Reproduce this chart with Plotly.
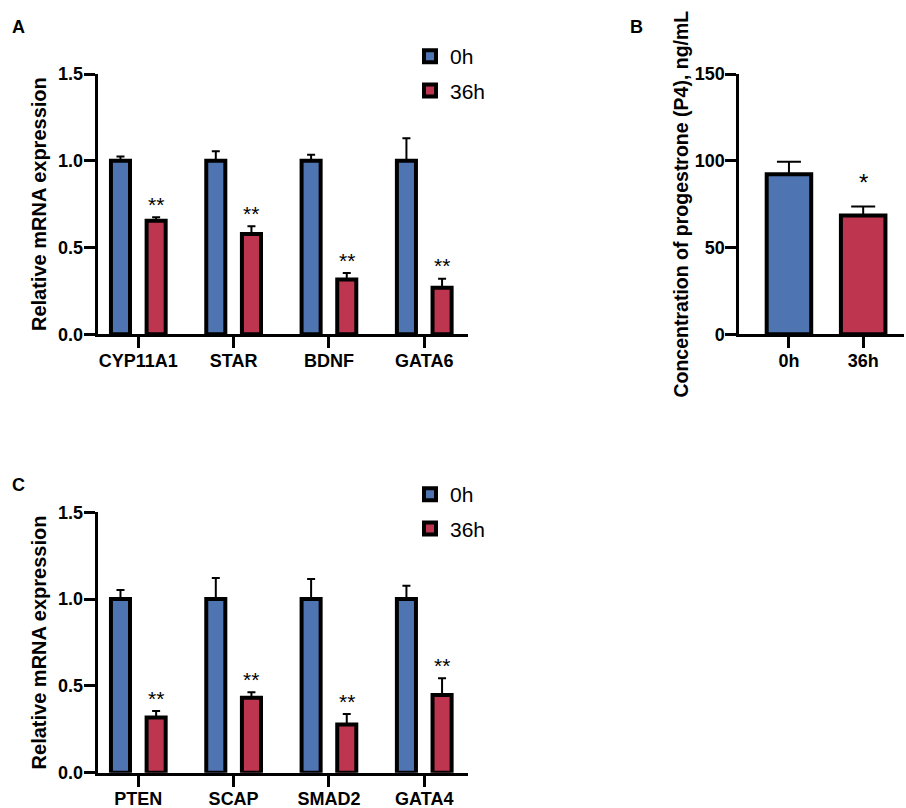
import plotly.graph_objects as go

# ---------------- data ----------------
A_genes = ["CYP11A1", "STAR", "BDNF", "GATA6"]
A_0h = [1.0, 1.0, 1.0, 1.0]
A_0h_err = [0.025, 0.055, 0.035, 0.13]
A_36h = [0.655, 0.578, 0.316, 0.268]
A_36h_err = [0.02, 0.045, 0.037, 0.052]
A_sig = ["**", "**", "**", "**"]

B_groups = ["0h", "36h"]
B_vals = [92.2, 68.4]
B_err = [7.3, 5.2]
B_sig = ["", "*"]

C_genes = ["PTEN", "SCAP", "SMAD2", "GATA4"]
C_0h = [1.0, 1.0, 1.0, 1.0]
C_0h_err = [0.052, 0.121, 0.116, 0.077]
C_36h = [0.318, 0.432, 0.278, 0.447]
C_36h_err = [0.037, 0.031, 0.06, 0.097]
C_sig = ["**", "**", "**", "**"]

series_names = ["0h", "36h"]
y_ticks_rel = [0.0, 0.5, 1.0, 1.5]
y_ticks_b = [0, 50, 100, 150]

# ---------------- style ----------------
BLUE = "#4E74B2"
RED = "#BE3550"
FONT = "Liberation Sans, Arial, sans-serif"
W, H = 906, 808
BW = 0.2
OFF = 0.187

fig = go.Figure()


def add_group(xaxis, yaxis, cats, v0, e0, v1, e1, legend):
    for name, vals, errs, col, off in [
        (series_names[0], v0, e0, BLUE, -OFF),
        (series_names[1], v1, e1, RED, OFF),
    ]:
        fig.add_trace(go.Bar(
            x=list(range(len(cats))), y=vals, name=name,
            width=BW, offset=off - BW / 2,
            marker=dict(color=col, line=dict(color="black", width=4)),
            error_y=dict(type="data", array=errs, arrayminus=[0] * len(errs),
                         symmetric=False, color="black", thickness=2, width=4),
            xaxis=xaxis, yaxis=yaxis, legend=legend, legendgroup=legend + name,
            showlegend=True,
        ))


add_group("x", "y", A_genes, A_0h, A_0h_err, A_36h, A_36h_err, "legend")
add_group("x3", "y3", C_genes, C_0h, C_0h_err, C_36h, C_36h_err, "legend2")

# panel B
fig.add_trace(go.Bar(
    x=[0, 1], y=B_vals, width=0.6,
    marker=dict(color=[BLUE, RED], line=dict(color="black", width=4)),
    error_y=dict(type="data", array=B_err, arrayminus=[0, 0], symmetric=False,
                 color="black", thickness=2, width=12),
    xaxis="x2", yaxis="y2", showlegend=False,
))

# significance stars
for xr, yr, vals, errs, sig in [("x", "y", A_36h, A_36h_err, A_sig),
                                ("x3", "y3", C_36h, C_36h_err, C_sig)]:
    for i, s in enumerate(sig):
        fig.add_annotation(x=i + OFF, y=vals[i] + errs[i], xref=xr, yref=yr,
                           text=s, showarrow=False, yanchor="middle", yshift=13,
                           font=dict(family=FONT, size=21, color="black"))
for i, s in enumerate(B_sig):
    if s:
        fig.add_annotation(x=i, y=B_vals[i] + B_err[i], xref="x2", yref="y2",
                           text=s, showarrow=False, yanchor="middle", yshift=24,
                           font=dict(family=FONT, size=24, color="black"))

# panel letters
for letter, px, py in [("A", 18, 27), ("B", 636, 27), ("C", 18, 485)]:
    fig.add_annotation(x=px / W, y=1 - py / H, xref="paper", yref="paper",
                       text="<b>%s</b>" % letter, showarrow=False,
                       xanchor="center", yanchor="middle",
                       font=dict(family=FONT, size=18, color="black"))

tickfont = dict(family=FONT, size=18, color="black", weight="bold")
titlefont = dict(family=FONT, size=20, color="black", weight="bold")
titlefont_b = dict(family=FONT, size=19.5, color="black", weight="bold")
common_axis = dict(showline=True, linecolor="black", linewidth=3, ticks="outside",
                   ticklen=11, tickwidth=3, tickcolor="black", showgrid=False,
                   zeroline=False, tickfont=tickfont, automargin=False,
                   ticklabelstandoff=-3)

xA = [97.7 / W, 468 / W]
yA = [1 - 334.3 / H, 1 - 74 / H]
xB = [739.3 / W, 904 / W]
yC = [1 - 772.7 / H, 1 - 512.3 / H]

fig.update_layout(
    width=W, height=H, margin=dict(l=0, r=0, t=0, b=0, autoexpand=False),
    paper_bgcolor="white", plot_bgcolor="white",
    barmode="overlay",
    xaxis=dict(domain=xA, range=[-0.426, 3.459], tickvals=list(range(4)),
               ticktext=A_genes, anchor="y", **common_axis),
    yaxis=dict(domain=yA, range=[0, 1.5], tickvals=y_ticks_rel, tickformat=".1f",
               anchor="x", title=dict(text="Relative mRNA expression", font=titlefont,
                                      standoff=7), **common_axis),
    xaxis2=dict(domain=xB, range=[-0.669, 1.55], tickvals=[0, 1], ticktext=B_groups,
                anchor="y2", **common_axis),
    yaxis2=dict(domain=yA, range=[0, 150], tickvals=y_ticks_b, anchor="x2",
                title=dict(text="Concentration of progestrone (P4), ng/mL",
                           font=titlefont_b, standoff=1), **common_axis),
    xaxis3=dict(domain=xA, range=[-0.426, 3.459], tickvals=list(range(4)),
                ticktext=C_genes, anchor="y3", **common_axis),
    yaxis3=dict(domain=yC, range=[0, 1.5], tickvals=y_ticks_rel, tickformat=".1f",
                anchor="x3", title=dict(text="Relative mRNA expression", font=titlefont,
                                        standoff=7), **common_axis),
    legend=dict(x=410 / W, y=1 - 36 / H, xanchor="left", yanchor="top",
                font=dict(family=FONT, size=21, color="black"),
                bgcolor="rgba(0,0,0,0)", tracegroupgap=4),
    legend2=dict(x=410 / W, y=1 - 474 / H, xanchor="left", yanchor="top",
                 font=dict(family=FONT, size=21, color="black"),
                 bgcolor="rgba(0,0,0,0)", tracegroupgap=4),
    font=dict(family=FONT, color="black"),
)

fig.write_html("out.html")
